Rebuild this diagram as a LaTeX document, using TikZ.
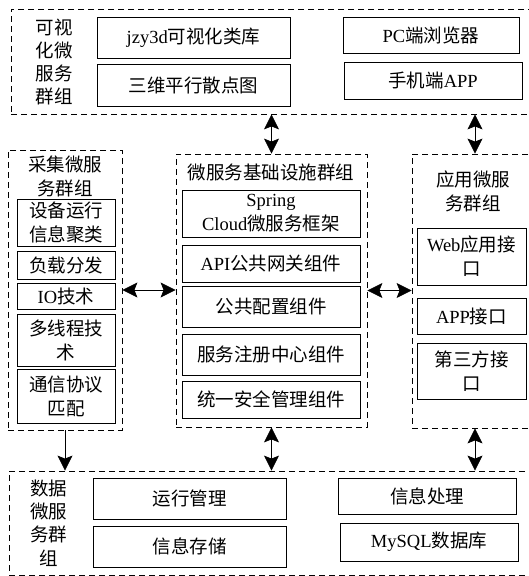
\documentclass[tikz,border=0pt]{standalone}
\usepackage{fontspec}
\setmainfont{Liberation Serif}
\newfontfamily\cjk{Noto Sans CJK SC}
\newcommand\zh[1]{{\cjk #1}}
\usetikzlibrary{arrows.meta}
\begin{document}
\begin{tikzpicture}[x=1pt,y=-1pt,
  every node/.style={font=\fontsize{18.5}{24}\selectfont, inner sep=0pt, align=center},
  grp/.style={draw, dashed, dash pattern=on 6pt off 4pt, line width=0.8pt},
  box/.style={draw, line width=0.8pt},
  lbl/.style={font=\fontsize{18.5}{23.3}\selectfont},
  dbl/.style={line width=0.8pt, {Stealth[length=15pt,width=15pt,inset=3pt]}-{Stealth[length=15pt,width=15pt,inset=3pt]}},
  sgl/.style={line width=0.8pt, -{Stealth[length=15pt,width=15pt,inset=3pt]}}]
\useasboundingbox (0,0) rectangle (529,576);
% groups
\node[grp, minimum width=529pt, minimum height=105pt] (vis) at (275.5,61.5) {};
\node[grp, minimum width=114pt, minimum height=280pt] (col) at (65,290) {};
\node[grp, minimum width=191pt, minimum height=273pt] (mid) at (271.5,290.5) {};
\node[grp, minimum width=126pt, minimum height=274pt] (app) at (475,291) {};
\node[grp, minimum width=531pt, minimum height=104pt] (data) at (274.5,523) {};
% group labels
\node[lbl] (visl) at (54,62) {\zh{可视}\\\zh{化微}\\\zh{服务}\\\zh{群组}};
\node (coll) at (65,176) {\zh{采集微服}\\\zh{务群组}};
\node (midl) at (271,172) {\zh{微服务基础设施群组}};
\node (appl) at (473,191.5) {\zh{应用微服}\\\zh{务群组}};
\node[lbl] (datal) at (49,523) {\zh{数据}\\\zh{微服}\\\zh{务群}\\\zh{组}};
% top boxes
\node[box, minimum width=193pt, minimum height=41pt] (jzy) at (193.5,37.5) {jzy3d\zh{可视化类库}};
\node[box, minimum width=193pt, minimum height=42pt] (sw) at (193.5,85) {\zh{三维平行散点图}};
\node[box, minimum width=176pt, minimum height=36pt] (pc) at (431,35) {PC\zh{端浏览器}};
\node[box, minimum width=178pt, minimum height=37pt] (ph) at (433,80.5) {\zh{手机端}APP};
% left boxes
\node[box, minimum width=98pt, minimum height=47pt] (c1) at (66,222.5) {\zh{设备运行}\\\zh{信息聚类}};
\node[box, minimum width=98pt, minimum height=28pt] (c2) at (66,265) {\zh{负载分发}};
\node[box, minimum width=98pt, minimum height=26pt] (c3) at (66,296) {IO\zh{技术}};
\node[box, minimum width=98pt, minimum height=52pt] (c4) at (66,340) {\zh{多线程技}\\\zh{术}};
\node[box, minimum width=98pt, minimum height=54pt] (c5) at (66,396) {\zh{通信协议}\\\zh{匹配}};
% middle boxes
\node[box, minimum width=178pt, minimum height=47pt] (m1) at (271,213.5) {Spring\\Cloud\zh{微服务框架}};
\node[box, minimum width=178pt, minimum height=37pt] (m2) at (271,263.5) {API\zh{公共网关组件}};
\node[box, minimum width=178pt, minimum height=41pt] (m3) at (271,306.5) {\zh{公共配置组件}};
\node[box, minimum width=178pt, minimum height=41pt] (m4) at (271,354.5) {\zh{服务注册中心组件}};
\node[box, minimum width=178pt, minimum height=37pt] (m5) at (271,399.5) {\zh{统一安全管理组件}};
% right boxes
\node[box, minimum width=109pt, minimum height=57pt] (r1) at (471.5,256.5) {Web\zh{应用接}\\\zh{口}};
\node[box, minimum width=109pt, minimum height=36pt] (r2) at (471.5,316) {APP\zh{接口}};
\node[box, minimum width=109pt, minimum height=56pt] (r3) at (471.5,371) {\zh{第三方接}\\\zh{口}};
% bottom boxes
\node[box, minimum width=193pt, minimum height=41pt] (d1) at (189.5,498.5) {\zh{运行管理}};
\node[box, minimum width=193pt, minimum height=41pt] (d2) at (189.5,546.5) {\zh{信息存储}};
\node[box, minimum width=178pt, minimum height=36pt] (d3) at (427,496) {\zh{信息处理}};
\node[box, minimum width=178pt, minimum height=38pt] (d4) at (429,542) {MySQL\zh{数据库}};
% connectors
\draw[dbl] (vis.south -| mid.north) -- (mid.north);
\draw[dbl] (vis.south -| app.north) -- (app.north);
\draw[dbl] (col.east) -- (col.east -| mid.west);
\draw[dbl] (mid.east) -- (mid.east -| app.west);
\draw[dbl] (mid.south) -- (mid.south |- data.north);
\draw[dbl] (app.south) -- (app.south |- data.north);
\draw[sgl] (col.south) -- (col.south |- data.north);
\end{tikzpicture}
\end{document}
